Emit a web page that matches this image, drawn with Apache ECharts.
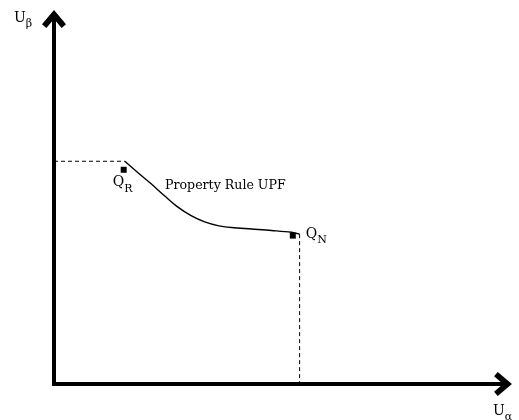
<!DOCTYPE html>
<html>
<head>
<meta charset="utf-8">
<script src="https://cdn.jsdelivr.net/npm/echarts@6/dist/echarts.min.js"></script>
<style>
  html, body { margin: 0; padding: 0; background: #fff; }
  #chart { width: 519px; height: 420px; }
</style>
</head>
<body>
<div id="chart"></div>
<script>
// Utility possibility frontier (property rule), in abstract utility units
const upfX = [15.6, 18.5, 21.4, 24.4, 27.3, 30.2, 33.2, 36.1, 39.1, 43.5, 47.9, 52.3, 54.1];
const upfY = [60.2, 57.1, 54.1, 50.8, 47.8, 45.5, 43.8, 42.8, 42.3, 41.9, 41.5, 41.0, 40.5];

// Reference points Q_R and Q_N
const pointNames = ['R', 'N'];
const pointX = [15.35, 52.6];
const pointY = [57.9, 40.1];

// Projections of the frontier end points onto the axes
const guideH = [[0, 60.2], [15.6, 60.2]];
const guideV = [[54.1, 40.5], [54.1, 0]];

const axisNames = { x: '\u03b1', y: '\u03b2' };
const curveName = 'Property Rule UPF';

const FONT = '"DejaVu Serif", "Liberation Serif", serif';
// open, heavy arrow head pointing along the axis
const chevron = 'path://M11,0 L22,13 L18,16.4 L11,8.1 L4,16.4 L0,13 Z';

const rich = {
  m: { fontFamily: FONT, fontSize: 14, color: '#000', lineHeight: 15, verticalAlign: 'top' },
  s: { fontFamily: FONT, fontSize: 11, color: '#000', padding: [8, 0, 0, 0], verticalAlign: 'bottom' }
};
const subText = (main, sub) => '{m|' + main + '}{s|' + sub + '}';

const chart = echarts.init(document.getElementById('chart'), null, { renderer: 'canvas' });

const axisCommon = {
  type: 'value',
  min: 0,
  max: 100,
  splitLine: { show: false },
  axisTick: { show: false },
  axisLabel: { show: false },
  axisLine: {
    show: true,
    symbol: ['none', chevron],
    symbolSize: [24, 18],
    symbolOffset: [0, -5],
    lineStyle: { color: '#000', width: 4, cap: 'square' }
  }
};

chart.setOption({
  animation: false,
  backgroundColor: '#fff',
  grid: { left: 54, right: 11, top: 14, bottom: 36 },
  xAxis: Object.assign({}, axisCommon),
  yAxis: Object.assign({}, axisCommon),
  series: [
    {
      type: 'line',
      data: upfX.map((x, i) => [x, upfY[i]]),
      smooth: 0.35,
      symbol: 'none',
      lineStyle: { color: '#000', width: 1.4 },
      z: 3
    },
    {
      type: 'line',
      data: guideH,
      symbol: 'none',
      lineStyle: { color: '#000', width: 1, type: [4, 3] }
    },
    {
      type: 'line',
      data: guideV,
      symbol: 'none',
      lineStyle: { color: '#000', width: 1, type: [4, 3] }
    },
    {
      type: 'scatter',
      symbol: 'rect',
      symbolSize: 6,
      itemStyle: { color: '#000', opacity: 1 },
      data: [
        {
          value: [pointX[0], pointY[0]],
          label: { show: true, color: '#000', opacity: 1, position: 'bottom', distance: 3, offset: [-1, 0], formatter: subText('Q', pointNames[0]), rich: rich }
        },
        {
          value: [pointX[1], pointY[1]],
          label: { show: true, color: '#000', opacity: 1, position: 'right', distance: 10, offset: [0, 1], formatter: subText('Q', pointNames[1]), rich: rich }
        }
      ],
      emphasis: { disabled: true },
      z: 4
    }
  ],
  graphic: [
    {
      type: 'text', left: 14, top: 11,
      style: { text: subText('U', axisNames.y), rich: rich }
    },
    {
      type: 'text', left: 493, top: 404,
      style: { text: subText('U', axisNames.x), rich: rich }
    },
    {
      type: 'text', left: 165, top: 179,
      style: { text: curveName, fontFamily: FONT, fontSize: 12.6, fill: '#000' }
    }
  ]
});
</script>
</body>
</html>
